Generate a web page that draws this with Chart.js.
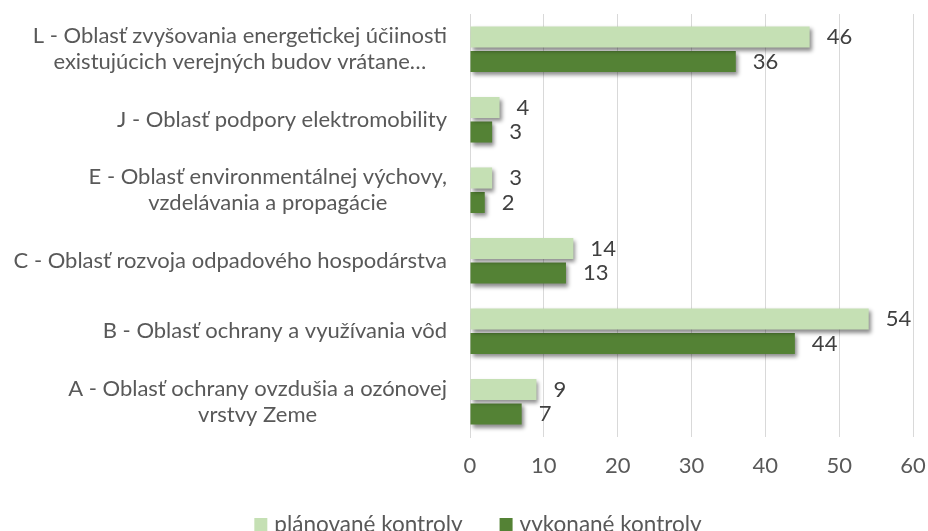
<!DOCTYPE html>
<html>
<head>
<meta charset="utf-8">
<script src="https://cdn.jsdelivr.net/npm/chart.js@4.4.1/dist/chart.umd.min.js"></script>
<style>
  html, body { margin: 0; padding: 0; background: #fff; }
  #wrap { width: 928px; height: 531px; }
</style>
</head>
<body>
<div id="wrap"><canvas id="kontroly" width="928" height="531"></canvas></div>
<script>
// data
const categories = [
  ['L - Oblasť zvyšovania energetickej účiinosti', 'existujúcich verejných budov vrátane…'],
  ['J - Oblasť podpory elektromobility'],
  ['E - Oblasť environmentálnej výchovy,', 'vzdelávania a propagácie'],
  ['C - Oblasť rozvoja odpadového hospodárstva'],
  ['B - Oblasť ochrany a využívania vôd'],
  ['A - Oblasť ochrany ovzdušia a ozónovej', 'vrstvy Zeme']
];
const planovane = [46, 4, 3, 14, 54, 9];
const vykonane = [36, 3, 2, 13, 44, 7];
const seriesNames = ['plánované kontroly', 'vykonané kontroly'];
const xMin = 0, xMax = 60, xStep = 10;

const FONT = 'Lato, "Liberation Sans", sans-serif';
const TEXT = '#595959';
const SIZE = 22;

// soft drop shadow under the bars
const barShadow = {
  id: 'barShadow',
  beforeDatasetsDraw(chart) {
    const ctx = chart.ctx;
    ctx.save();
    ctx.shadowColor = 'rgba(0,0,0,0.45)';
    ctx.shadowBlur = 4;
    ctx.shadowOffsetX = 2;
    ctx.shadowOffsetY = 3;
  },
  afterDatasetsDraw(chart) {
    chart.ctx.restore();
  }
};

// value labels at the end of each bar
const valueLabels = {
  id: 'valueLabels',
  afterDatasetsDraw(chart) {
    const ctx = chart.ctx;
    ctx.save();
    ctx.font = SIZE + 'px ' + FONT;
    ctx.fillStyle = '#404040';
    ctx.textAlign = 'left';
    ctx.textBaseline = 'middle';
    chart.data.datasets.forEach((ds, i) => {
      chart.getDatasetMeta(i).data.forEach((bar, j) => {
        ctx.fillText(ds.data[j], bar.x + 17, bar.y);
      });
    });
    ctx.restore();
  }
};

// category labels: block right aligned, lines centred inside the block
const catLabels = {
  id: 'catLabels',
  afterDraw(chart) {
    const ctx = chart.ctx;
    const y = chart.scales.y;
    const right = chart.chartArea.left - 23;
    const lh = 26;
    ctx.save();
    ctx.font = SIZE + 'px ' + FONT;
    ctx.fillStyle = TEXT;
    ctx.textAlign = 'center';
    ctx.textBaseline = 'middle';
    categories.forEach((lines, i) => {
      const w = Math.max(...lines.map(l => ctx.measureText(l).width));
      const cx = right - w / 2;
      const cy = y.getPixelForValue(i);
      lines.forEach((l, k) => {
        ctx.fillText(l, cx, cy + (k - (lines.length - 1) / 2) * lh);
      });
    });
    ctx.restore();
  }
};

// legend drawn under the axis (cut by the bottom edge like the original)
const bottomLegend = {
  id: 'bottomLegend',
  afterDraw(chart) {
    const ctx = chart.ctx;
    ctx.save();
    ctx.font = '22.5px ' + FONT;
    ctx.textBaseline = 'middle';
    ctx.textAlign = 'left';
    const box = 13, gap = 7, spacing = 37;
    const items = chart.data.datasets.map(ds => ({
      text: ds.label, color: ds.backgroundColor, w: box + gap + ctx.measureText(ds.label).width
    }));
    const total = items.reduce((s, it) => s + it.w, 0) + spacing * (items.length - 1);
    let x = 478 - total / 2;
    const cy = 525;
    items.forEach(it => {
      ctx.fillStyle = it.color;
      ctx.fillRect(x, cy - 7, box, box + 2);
      ctx.fillStyle = TEXT;
      ctx.fillText(it.text, x + box + gap, cy);
      x += it.w + spacing;
    });
    ctx.restore();
  }
};

new Chart(document.getElementById('kontroly'), {
  type: 'bar',
  data: {
    labels: categories,
    datasets: [
      { label: seriesNames[0], data: planovane, backgroundColor: '#C5E0B4' },
      { label: seriesNames[1], data: vykonane, backgroundColor: '#548235' }
    ]
  },
  options: {
    indexAxis: 'y',
    responsive: false,
    animation: false,
    layout: { padding: { top: 14, right: 15, left: 0, bottom: 0 } },
    categoryPercentage: 0.695,
    barPercentage: 0.86,
    plugins: {
      legend: { display: false },
      tooltip: { enabled: false }
    },
    scales: {
      x: {
        min: xMin,
        max: xMax,
        ticks: { stepSize: xStep, color: TEXT, font: { family: FONT, size: SIZE }, padding: 16 },
        grid: { color: '#D9D9D9', drawTicks: false },
        border: { display: false },
        afterFit(scale) {
          scale.height = 94;
          scale.paddingRight = 0;
          scale.paddingLeft = 0;
        }
      },
      y: {
        ticks: { display: false },
        grid: { display: false },
        border: { display: true, color: '#D9D9D9' },
        afterFit(scale) { scale.width = 470; }
      }
    }
  },
  plugins: [barShadow, valueLabels, catLabels, bottomLegend]
});
</script>
</body>
</html>
